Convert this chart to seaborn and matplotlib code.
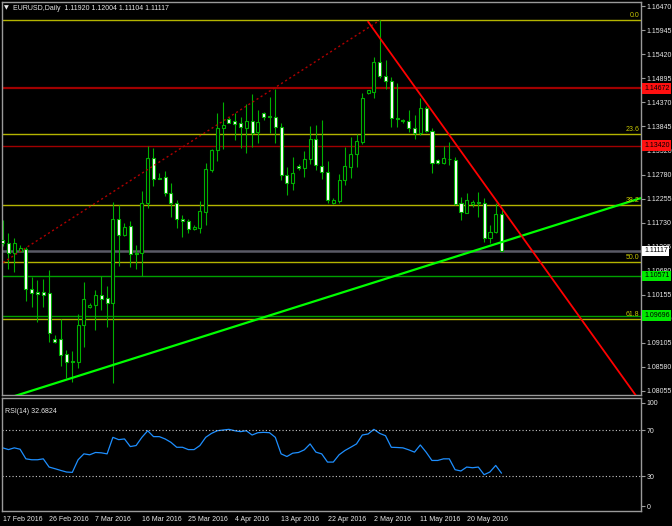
import numpy as np
import pandas as pd
import matplotlib
matplotlib.use("Agg")
import matplotlib.pyplot as plt
import seaborn as sns

# EURUSD daily, bar 0 = 17 Feb 2016 (broker shows Sunday bars)
bar_open = [1.11352, 1.11280, 1.11074, 1.11111, 1.11149, 1.10273, 1.10203, 1.10214, 1.10185, 1.09185,
            1.09178, 1.08857, 1.08697, 1.08688, 1.09491, 1.09879, 1.09923, 1.10142, 1.10076, 1.09966,
            1.11805, 1.11455, 1.11659, 1.11068, 1.11061, 1.12156, 1.13154, 1.12709, 1.12738, 1.12388,
            1.12169, 1.11819, 1.11775, 1.11600, 1.11608, 1.11972, 1.12885, 1.13322, 1.13797, 1.13994,
            1.13957, 1.13907, 1.13811, 1.13957, 1.13723, 1.14139, 1.14060, 1.14038, 1.13819, 1.12775,
            1.12593, 1.12979, 1.12922, 1.13119, 1.13557, 1.12972, 1.12847, 1.12156, 1.12212, 1.12666,
            1.12957, 1.13228, 1.13504, 1.14564, 1.14599, 1.15255, 1.14949, 1.14839, 1.14023, 1.13975,
            1.13964, 1.13797, 1.13688, 1.14235, 1.13738, 1.13103, 1.13031, 1.13136, 1.13103, 1.12156,
            1.11950, 1.12134, 1.12184, 1.12171, 1.11403, 1.11534, 1.11920]
bar_high = [1.11790, 1.11512, 1.11389, 1.11232, 1.11192, 1.10536, 1.10477, 1.10492, 1.10695, 1.09266,
            1.09616, 1.08944, 1.08922, 1.09732, 1.10426, 1.09980, 1.10258, 1.10564, 1.10352, 1.12191,
            1.12118, 1.11718, 1.11768, 1.11243, 1.12425, 1.13410, 1.13373, 1.12812, 1.12863, 1.12607,
            1.12228, 1.11899, 1.11805, 1.11681, 1.12206, 1.13031, 1.13338, 1.14126, 1.14380, 1.14051,
            1.14139, 1.14038, 1.14323, 1.14548, 1.14198, 1.14161, 1.14476, 1.14651, 1.13907, 1.12944,
            1.13163, 1.13016, 1.13311, 1.13848, 1.13870, 1.13979, 1.13088, 1.12265, 1.12797, 1.13395,
            1.13614, 1.13673, 1.14577, 1.14636, 1.15352, 1.16161, 1.15293, 1.14927, 1.14783, 1.14001,
            1.14198, 1.14089, 1.14467, 1.14286, 1.13797, 1.13119, 1.13410, 1.13504, 1.13163, 1.12300,
            1.12375, 1.12228, 1.12410, 1.12265, 1.11681, 1.12169, 1.12004]
bar_low = [1.11221, 1.10711, 1.10658, 1.11079, 1.10023, 1.09892, 1.09564, 1.09879, 1.09126, 1.09091,
           1.08594, 1.08325, 1.08250, 1.08544, 1.09016, 1.09857, 1.09382, 1.09820, 1.09454, 1.08215,
           1.10783, 1.11433, 1.10768, 1.10711, 1.10564, 1.12046, 1.12534, 1.12681, 1.12315, 1.11862,
           1.11608, 1.11424, 1.11512, 1.11571, 1.11512, 1.11681, 1.12847, 1.13088, 1.13338, 1.13907,
           1.13541, 1.13360, 1.13263, 1.13382, 1.13482, 1.13979, 1.13701, 1.13469, 1.12666, 1.12337,
           1.12447, 1.12885, 1.12738, 1.13016, 1.12885, 1.12681, 1.12169, 1.12140, 1.12169, 1.12556,
           1.12703, 1.12957, 1.13454, 1.14548, 1.14454, 1.14892, 1.14651, 1.13832, 1.13832, 1.13907,
           1.13723, 1.13563, 1.13651, 1.13723, 1.12825, 1.13023, 1.13016, 1.12994, 1.12129, 1.11790,
           1.11937, 1.12068, 1.11862, 1.11315, 1.11293, 1.11499, 1.11104]
bar_close = [1.11287, 1.11074, 1.11280, 1.11171, 1.10273, 1.10199, 1.10170, 1.10155, 1.09310, 1.09113,
             1.08841, 1.08675, 1.08675, 1.09491, 1.10061, 1.09936, 1.10142, 1.10054, 1.09966, 1.11805,
             1.11462, 1.11643, 1.11039, 1.11046, 1.12156, 1.13154, 1.12681, 1.12696, 1.12388, 1.12169,
             1.11812, 1.11762, 1.11586, 1.11630, 1.11987, 1.12900, 1.13322, 1.13797, 1.13863, 1.13920,
             1.13892, 1.13832, 1.13957, 1.13688, 1.13929, 1.14038, 1.14045, 1.13819, 1.12775, 1.12593,
             1.12825, 1.12922, 1.13119, 1.13557, 1.12994, 1.12847, 1.12228, 1.12217, 1.12666, 1.12972,
             1.13235, 1.13519, 1.14454, 1.14629, 1.15255, 1.14942, 1.14833, 1.14016, 1.14010, 1.13962,
             1.13797, 1.13688, 1.14235, 1.13738, 1.13044, 1.13031, 1.13154, 1.13128, 1.12140, 1.11972,
             1.12228, 1.12184, 1.12171, 1.11403, 1.11534, 1.11915, 1.11117]
rsi_values = [54.6, 53.1, 54.6, 53.4, 45.1, 44.3, 44.3, 45.1, 38.0, 36.6,
              35.1, 33.7, 33.4, 44.3, 49.4, 48.6, 50.6, 50.3, 49.4, 63.7,
              61.7, 62.3, 55.7, 56.6, 63.7, 69.4, 64.3, 64.3, 62.3, 59.4,
              55.1, 55.1, 53.1, 53.1, 56.6, 63.7, 67.1, 69.4, 70.0, 70.6,
              69.4, 68.6, 69.4, 65.7, 67.7, 68.0, 67.7, 63.7, 49.4, 47.1,
              50.0, 50.6, 52.9, 58.0, 50.9, 49.4, 42.3, 42.3, 48.6, 52.3,
              55.1, 58.0, 65.7, 66.6, 70.6, 67.1, 65.1, 55.1, 54.9, 54.6,
              52.9, 50.9, 57.1, 50.9, 43.7, 43.7, 45.1, 45.1, 35.7, 34.6,
              38.0, 37.4, 38.0, 31.4, 33.7, 39.4, 32.7]

date_ticks = [0, 8, 16, 24, 32, 40, 48, 56, 64, 72, 80]
date_labels = ['17 Feb 2016', '26 Feb 2016', '7 Mar 2016', '16 Mar 2016', '25 Mar 2016', '4 Apr 2016',
               '13 Apr 2016', '22 Apr 2016', '2 May 2016', '11 May 2016', '20 May 2016']
price_labels = ['1.16470', '1.15945', '1.15420', '1.14895', '1.14370', '1.13845', '1.13320', '1.12780',
                '1.12255', '1.11730', '1.11205', '1.10680', '1.10155', '1.09630', '1.09105', '1.08580',
                '1.08055']

# fibo retracement (high 3 May -> off-chart low)
fib_high = 1.16161
fib_low = 1.05591
fib_ratios = [0.0, 23.6, 38.2, 50.0, 61.8]
fib_diag_x = [-1, 65]
fib_diag_y = [1.10772, 1.16161]

red_levels = [1.14672, 1.13420]
green_levels = [1.10571, 1.09696]
bid_price = 1.11117

up_trend_x = [0, 110]
up_trend_y = [1.07853, 1.12268]
down_trend_x = [63, 110]
down_trend_y = [1.16131, 1.07800]

header = 'EURUSD,Daily  1.11920 1.12004 1.11104 1.11117'
rsi_title = 'RSI(14) 32.6824'

sns.set_style("dark", {"axes.facecolor": "black", "figure.facecolor": "black"})
plt.rcParams['font.family'] = ['Liberation Sans', 'DejaVu Sans']

W, H = 672, 526
fig = plt.figure(figsize=(W / 100, H / 100), dpi=100, facecolor='black')
ax = fig.add_axes([2 / W, 1 - 395 / H, 639 / W, 393 / H])
ax2 = fig.add_axes([2 / W, 1 - 511 / H, 639 / W, 113 / H])

frame_col = '#9a9a9a'
text_col = '#e8e8e8'
wick_col = '#00b000'
lab_size = 5.0

df = pd.DataFrame({'open': bar_open, 'high': bar_high, 'low': bar_low, 'close': bar_close})
df['bar'] = np.arange(len(df))
bear = df['close'] < df['open']

for a in (ax, ax2):
    a.set_facecolor('black')
    for s in a.spines.values():
        s.set_color(frame_col)
        s.set_linewidth(1)
    a.set_xlim(-0.12, 110.05)
    a.grid(False)

# horizontal levels
for r in fib_ratios:
    lvl = fib_high - r / 100 * (fib_high - fib_low)
    ax.axhline(lvl, color='#b4b400', lw=1, zorder=1)
    ax.text(0.997, lvl + 0.00022, f'{r:.1f}', transform=ax.get_yaxis_transform(), ha='right',
            va='bottom', color='#c8c800', fontsize=lab_size, zorder=6)
ax.axhline(red_levels[0], color='#a00000', lw=1.6, zorder=1)
ax.axhline(red_levels[1], color='#a00000', lw=1, zorder=1)
for g in green_levels:
    ax.axhline(g, color='#00a000', lw=1, zorder=1)
ax.axhline(bid_price, color='#5a5a66', lw=1.8, zorder=1)

# candles
ax.vlines(df['bar'], df['low'], df['high'], color=wick_col, lw=0.8, zorder=2)
body_h = (df['close'] - df['open']).abs().clip(lower=0.00004)
body_b = df[['open', 'close']].min(axis=1)
ax.bar(df['bar'], body_h, bottom=body_b, width=0.55,
       color=np.where(bear, 'white', 'black'), edgecolor=wick_col, linewidth=0.8, zorder=3)

# trend lines
ax.plot(fib_diag_x, fib_diag_y, color='#b00000', lw=1, dashes=(1.5, 2), zorder=4)
ax.plot(up_trend_x, up_trend_y, color='#00ff00', lw=1.6, zorder=5)
ax.plot(down_trend_x, down_trend_y, color='#ff0000', lw=1.3, zorder=5)

ax.set_ylim(1.07959, 1.16562)
ax.set_xticks([])
ax.yaxis.tick_right()
ax.set_yticks([float(p) for p in price_labels])
ax.set_yticklabels(price_labels)
ax.tick_params(axis='y', colors=frame_col, labelcolor=text_col, labelsize=lab_size, length=3, width=0.8, pad=1)

# price boxes on the scale
boxes = [(red_levels[0], '#ff1010', 'black'), (red_levels[1], '#ff1010', 'black'),
         (bid_price, 'white', 'black'), (green_levels[0], '#00e800', 'black'),
         (green_levels[1], '#00e800', 'black')]
for p, fc, tc in boxes:
    ax.text(1.0047, p, f'{p:.5f}', transform=ax.get_yaxis_transform(), ha='left', va='center',
            fontsize=lab_size, color=tc, clip_on=False, zorder=10,
            bbox=dict(facecolor=fc, edgecolor='none', pad=1.2))

# RSI window
sns.lineplot(x=df['bar'], y=rsi_values, ax=ax2, color='#1e8fff', lw=0.9)
ax2.axhline(70, color='#c8c8c8', lw=0.8, ls=(0, (1, 2)))
ax2.axhline(30, color='#c8c8c8', lw=0.8, ls=(0, (1, 2)))
ax2.set_ylim(0, 97.7)
ax2.yaxis.tick_right()
ax2.set_yticks([93.4, 70, 30, 4.3])
ax2.set_yticklabels(['100', '70', '30', '0'])
ax2.tick_params(axis='y', colors=frame_col, labelcolor=text_col, labelsize=lab_size, length=3, width=0.8, pad=1)
ax2.set_xticks(date_ticks)
ax2.set_xticklabels(date_labels, ha='left')
ax2.tick_params(axis='x', colors=frame_col, labelcolor=text_col, labelsize=lab_size, length=2, width=0.8, pad=1.5)
ax2.set_xlabel('')
ax2.set_ylabel('')
ax2.text(0.005, 0.88, rsi_title, transform=ax2.transAxes, color=text_col, fontsize=lab_size, va='center')

fig.text(4 / W, 1 - 8 / H, '\u25bc', color=text_col, fontsize=4.5, va='center',
         family=['DejaVu Sans'])
fig.text(13 / W, 1 - 8 / H, header, color=text_col, fontsize=lab_size, va='center')

fig.savefig('out.png', dpi=100, facecolor='black')
